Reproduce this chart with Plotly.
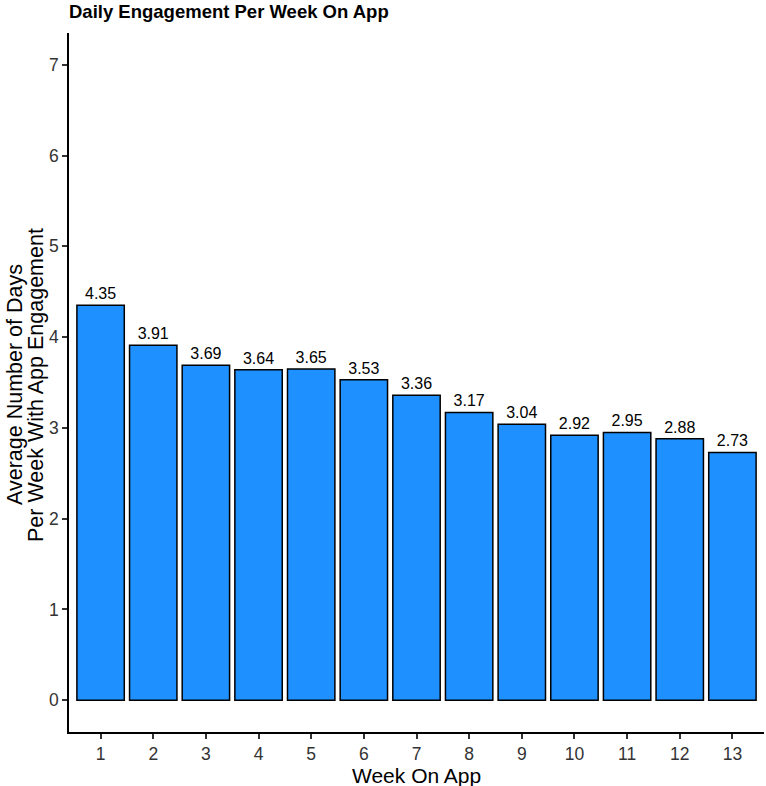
import plotly.graph_objects as go

weeks = [str(i) for i in range(1, 14)]
values = [4.35, 3.91, 3.69, 3.64, 3.65, 3.53, 3.36, 3.17, 3.04, 2.92, 2.95, 2.88, 2.73]
labels = [f"{v:.2f}" for v in values]
title_text = "Daily Engagement Per Week On App"
x_title = "Week On App"
y_title_lines = ["Average Number of Days", "Per Week With App Engagement"]

W, H = 766, 786
L, R, T, B = 69, 2, 33, 54
PW, PH = W - L - R, H - T - B

fig = go.Figure(go.Bar(
    x=weeks, y=values, text=labels, textposition="outside",
    marker=dict(color="#1E90FF", line=dict(color="black", width=1.5)),
    width=0.9,
    textfont=dict(size=16, color="black", family="Liberation Sans, Arial"),
    cliponaxis=False,
))

annots = [
    dict(text=x_title, xref="paper", yref="paper", x=(416 - L) / PW, y=-(775 - (H - B)) / PH,
         xanchor="center", yanchor="middle", showarrow=False,
         font=dict(size=21, color="black")),
]
for line, cx in zip(y_title_lines, [15, 36]):
    annots.append(dict(text=line, xref="paper", yref="paper", x=(cx - L) / PW,
                       y=((H - B) - 385) / PH, xanchor="center", yanchor="middle",
                       textangle=-90, showarrow=False, font=dict(size=21.5, color="black")))

fig.update_layout(
    width=W, height=H,
    margin=dict(l=L, r=R, t=T, b=B, autoexpand=False),
    plot_bgcolor="white", paper_bgcolor="white",
    font=dict(family="Liberation Sans, Arial", color="black"),
    title=dict(text=f"<b>{title_text}</b>", x=L / W, xanchor="left",
               y=1 - 12 / H, yanchor="middle", font=dict(size=18.5, color="black")),
    showlegend=False,
    annotations=annots,
)
fig.update_xaxes(
    type="category", range=[-0.6, 12.6], automargin=False,
    showline=True, linecolor="black", linewidth=1.5,
    ticks="outside", ticklen=5, tickcolor="#333333", tickwidth=1.5,
    tickfont=dict(size=17.5, color="#333333"),
    showgrid=False,
)
fig.update_yaxes(
    range=[-0.35, 7.35], tickvals=list(range(0, 8)), automargin=False,
    showline=True, linecolor="black", linewidth=1.5,
    ticks="outside", ticklen=5, tickcolor="#333333", tickwidth=1.5,
    tickfont=dict(size=17.5, color="#333333"),
    showgrid=False, zeroline=False,
)

fig.write_html("out.html", config={"displayModeBar": False},
               post_script="document.body.style.margin='0';document.body.style.overflow='hidden';")
